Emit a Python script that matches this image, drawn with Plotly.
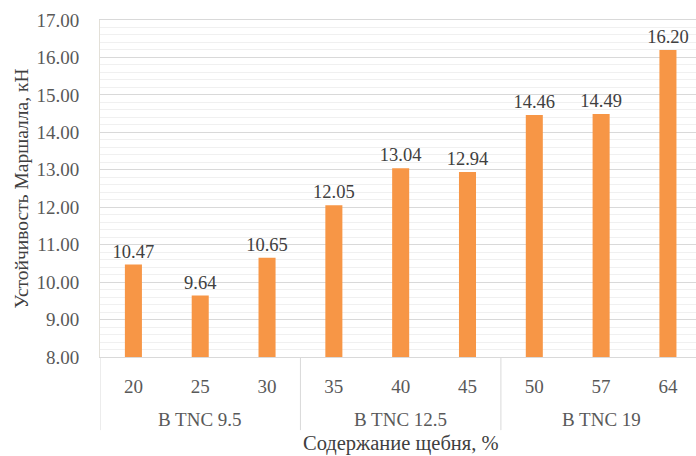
import plotly.graph_objects as go

# Aggregate content (%) and mix type for each specimen series
content = ["20", "25", "30", "35", "40", "45", "50", "57", "64"]
mix_types = ["B TNC 9.5", "B TNC 12.5", "B TNC 19"]
per_group = 3
stability = [10.47, 9.64, 10.65, 12.05, 13.04, 12.94, 14.46, 14.49, 16.20]

font_family = "Liberation Serif"
axis_text = "#595959"
label_text = "#404040"
line_col = "#d9d9d9"

fig = go.Figure(
    go.Bar(
        x=content,
        y=stability,
        width=0.255,
        marker=dict(color="#F79646", line=dict(width=0)),
        text=[f"{v:.2f}" for v in stability],
        textposition="outside",
        constraintext="none",
        cliponaxis=False,
        textfont=dict(family=font_family, size=18.5, color=label_text),
    )
)

# Mix-type group labels and dividers beneath the category ticks
for i, name in enumerate(mix_types):
    fig.add_annotation(
        x=i * per_group + (per_group - 1) / 2,
        xref="x",
        y=0,
        yref="paper",
        yshift=-62,
        yanchor="middle",
        text=name,
        showarrow=False,
        font=dict(family=font_family, size=19, color=axis_text),
    )
for i in range(len(mix_types)):
    fig.add_shape(
        type="line",
        xref="x",
        yref="paper",
        x0=i * per_group - 0.5,
        x1=i * per_group - 0.5,
        y0=0,
        y1=-0.217,
        line=dict(color=line_col, width=1),
    )

# Horizontal axis title
fig.add_annotation(
    x=(len(content) - 1) / 2,
    xref="x",
    y=0,
    yref="paper",
    yshift=-86,
    yanchor="middle",
    text="Содержание щебня, %",
    showarrow=False,
    font=dict(family=font_family, size=20.5, color=label_text),
)

fig.update_layout(
    width=696,
    height=456,
    margin=dict(l=100, r=0, t=20, b=99),
    paper_bgcolor="white",
    plot_bgcolor="white",
    showlegend=False,
    font=dict(family=font_family, size=19, color=axis_text),
)

fig.update_xaxes(
    type="category",
    range=[-0.5, 8.42],
    showline=True,
    mirror=True,
    linecolor=line_col,
    linewidth=1,
    showgrid=False,
    ticks="",
    ticklabelstandoff=12,
    tickfont=dict(family=font_family, size=19, color=axis_text),
)

fig.update_yaxes(
    range=[8, 17],
    dtick=1,
    tickformat=".2f",
    showgrid=True,
    gridcolor=line_col,
    gridwidth=1,
    minor=dict(dtick=0.2, showgrid=True, gridcolor="#f0f0f0", gridwidth=1),
    showline=True,
    linecolor="#e3e0d8",
    linewidth=1,
    zeroline=False,
    ticks="",
    ticklabelstandoff=16,
    tickfont=dict(family=font_family, size=19, color=axis_text),
    title=dict(text="Устойчивость Маршалла, кН", font=dict(family=font_family, size=19.5, color=label_text), standoff=2),
)

fig.write_html("out.html")
